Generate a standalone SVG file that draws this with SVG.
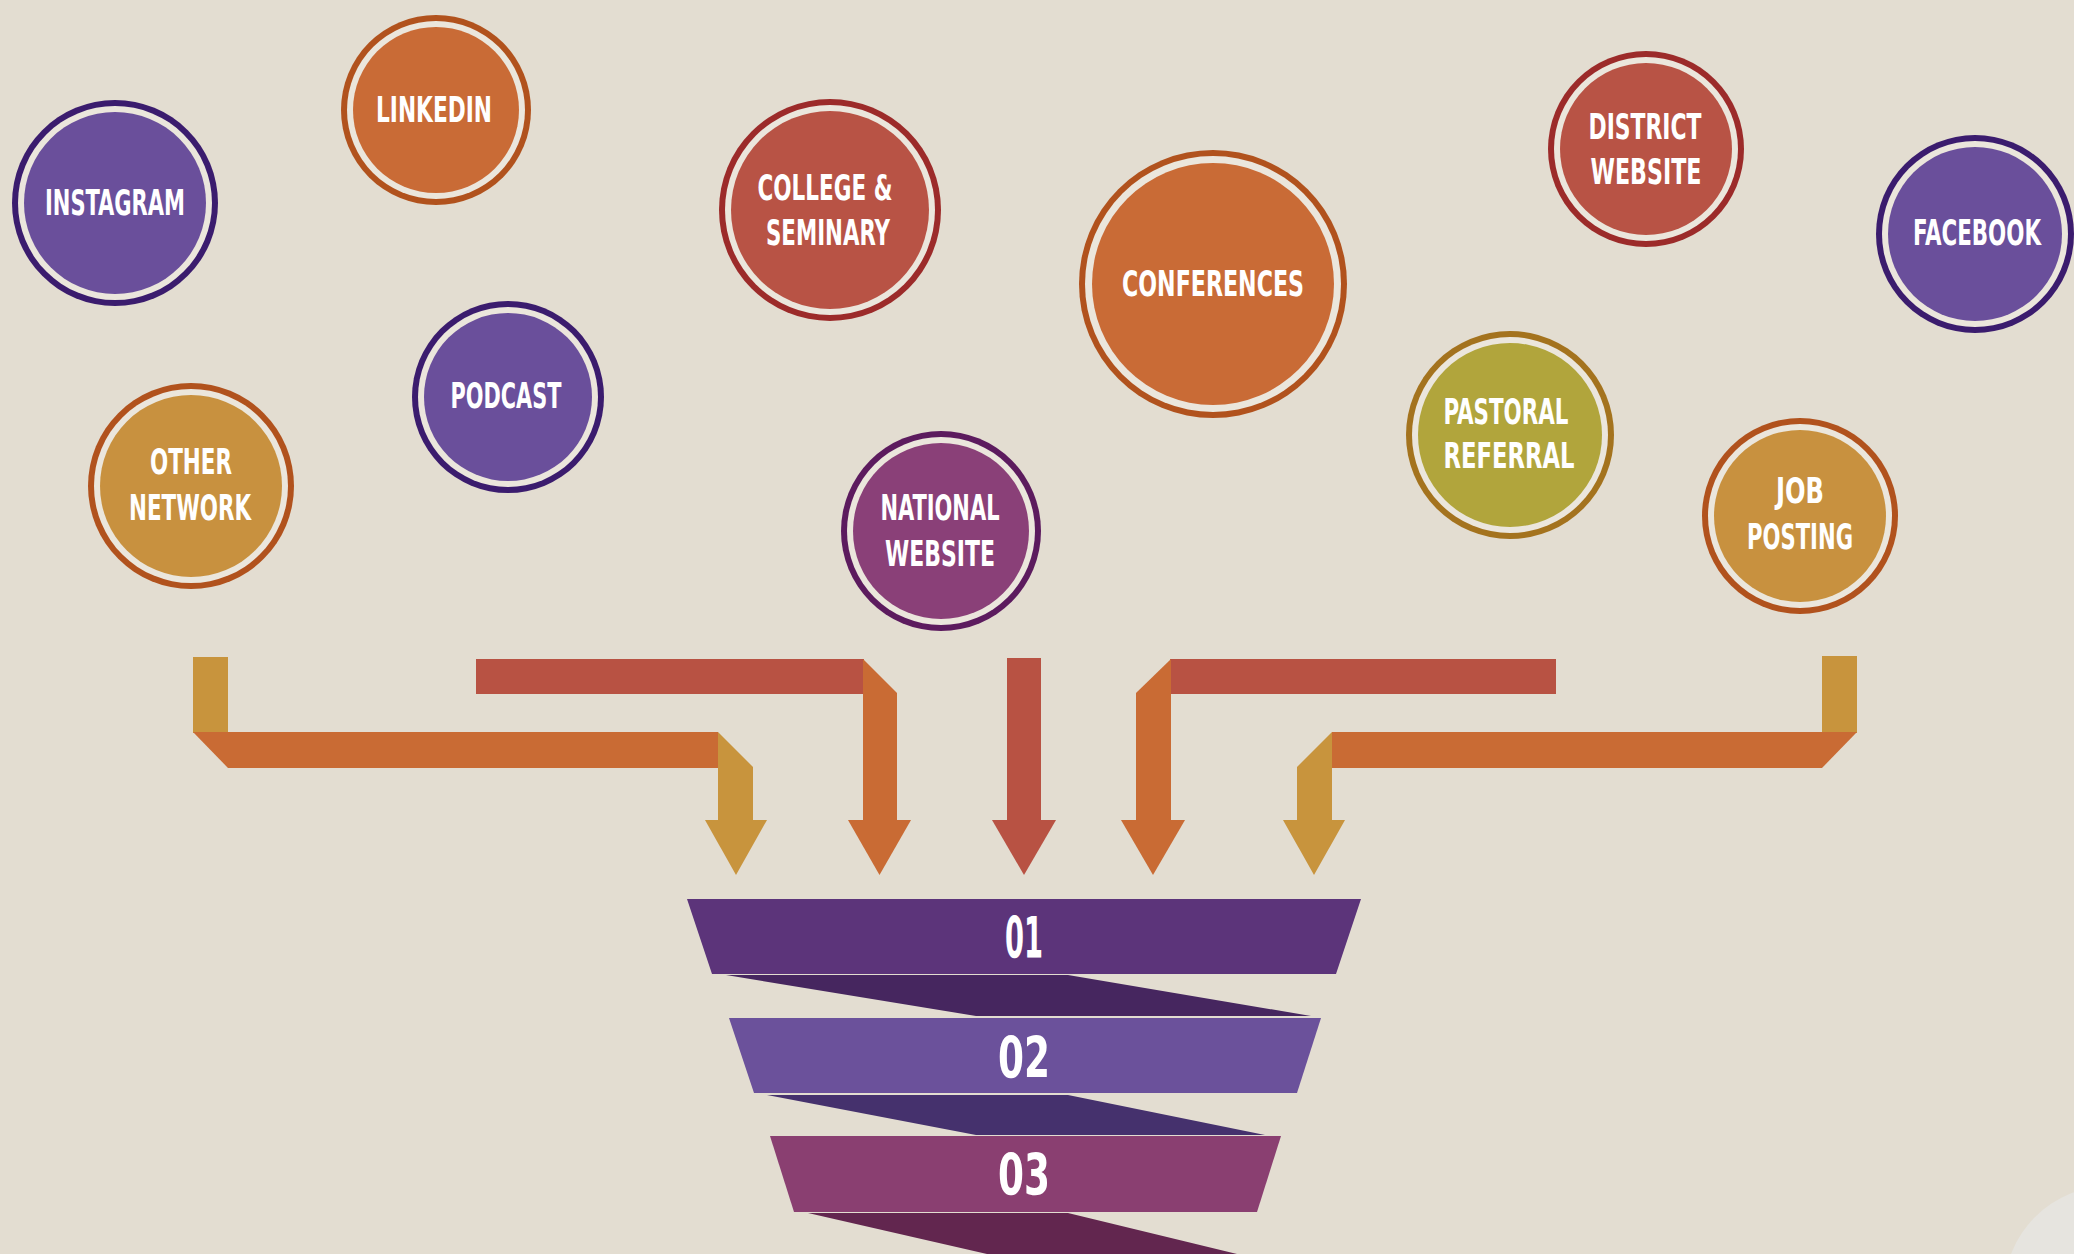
<svg xmlns="http://www.w3.org/2000/svg" width="2074" height="1254" viewBox="0 0 2074 1254">
<style>
  .lbl { font-family: "DejaVu Sans Condensed", "Liberation Sans", sans-serif; font-weight: bold; font-size: 36px; fill: #ffffff; text-anchor: middle; }
  .num { font-family: "DejaVu Sans Condensed", "Liberation Sans", sans-serif; font-weight: bold; font-size: 57px; fill: #ffffff; text-anchor: middle; }
  .gap { fill: #ebe6dc; }
  .purple .ring { fill: #3b1c6e; } .purple .core { fill: #6a4f9b; }
  .orange .ring { fill: #b1521d; } .orange .core { fill: #c96b36; }
  .red .ring { fill: #9c2b2a; } .red .core { fill: #b85345; }
  .gold .ring { fill: #b1521d; } .gold .core { fill: #c8913f; }
  .olive .ring { fill: #a4731e; } .olive .core { fill: #b1a53c; }
  .magenta .ring { fill: #5c1b5e; } .magenta .core { fill: #8a4078; }
  .c-gold { fill: #c8943d; } .c-orange { fill: #c96b34; } .c-red { fill: #b85243; }
</style>
<rect width="2074" height="1254" fill="#e3ddd1"/>

<g id="connectors">
  <g id="arrow-other-network">
    <rect class="c-gold" x="193" y="657" width="35" height="76"/>
    <polygon class="c-orange" points="193,732 718,732 718,768 228,768"/>
    <polygon class="c-gold" points="718,732 753,767 753,821 718,821"/>
    <polygon class="c-gold" points="705,820 767,820 736,875"/>
  </g>
  <g id="arrow-left-inner">
    <rect class="c-red" x="476" y="659" width="388" height="35"/>
    <polygon class="c-orange" points="863,659 897,693 897,821 863,821"/>
    <polygon class="c-orange" points="848,820 911,820 879.5,875"/>
  </g>
  <g id="arrow-center">
    <rect class="c-red" x="1007" y="658" width="34" height="163"/>
    <polygon class="c-red" points="992,820 1056,820 1024,875"/>
  </g>
  <g id="arrow-right-inner">
    <rect class="c-red" x="1170" y="659" width="386" height="35"/>
    <polygon class="c-orange" points="1171,659 1171,821 1136,821 1136,693"/>
    <polygon class="c-orange" points="1121,820 1185,820 1153,875"/>
  </g>
  <g id="arrow-job-posting">
    <rect class="c-gold" x="1822" y="656" width="35" height="77"/>
    <polygon class="c-orange" points="1332,732 1857,732 1822,768 1332,768"/>
    <polygon class="c-gold" points="1332,732 1332,821 1297,821 1297,767"/>
    <polygon class="c-gold" points="1283,820 1345,820 1314,875"/>
  </g>
</g>

<g id="node-instagram" class="purple">
  <circle class="ring" cx="115" cy="203" r="103"/><circle class="gap" cx="115" cy="203" r="97"/><circle class="core" cx="115" cy="203" r="91"/>
  <text class="lbl" x="115" y="215" textLength="140" lengthAdjust="spacingAndGlyphs">INSTAGRAM</text>
</g>
<g id="node-linkedin" class="orange">
  <circle class="ring" cx="436" cy="110" r="95"/><circle class="gap" cx="436" cy="110" r="89"/><circle class="core" cx="436" cy="110" r="83"/>
  <text class="lbl" x="434" y="122" textLength="116" lengthAdjust="spacingAndGlyphs">LINKEDIN</text>
</g>
<g id="node-podcast" class="purple">
  <circle class="ring" cx="508" cy="397" r="96"/><circle class="gap" cx="508" cy="397" r="90"/><circle class="core" cx="508" cy="397" r="84"/>
  <text class="lbl" x="506" y="408" textLength="111" lengthAdjust="spacingAndGlyphs">PODCAST</text>
</g>
<g id="node-other-network" class="gold">
  <circle class="ring" cx="191" cy="486" r="103"/><circle class="gap" cx="191" cy="486" r="97"/><circle class="core" cx="191" cy="486" r="91"/>
  <text class="lbl" x="191" y="474" textLength="82" lengthAdjust="spacingAndGlyphs">OTHER</text>
  <text class="lbl" x="190" y="520" textLength="122" lengthAdjust="spacingAndGlyphs">NETWORK</text>
</g>
<g id="node-college-seminary" class="red">
  <circle class="ring" cx="830" cy="210" r="111"/><circle class="gap" cx="830" cy="210" r="105"/><circle class="core" cx="830" cy="210" r="99"/>
  <text class="lbl" x="825" y="200" textLength="135" lengthAdjust="spacingAndGlyphs">COLLEGE &amp;</text>
  <text class="lbl" x="828" y="245" textLength="124" lengthAdjust="spacingAndGlyphs">SEMINARY</text>
</g>
<g id="node-conferences" class="orange">
  <circle class="ring" cx="1213" cy="284" r="134"/><circle class="gap" cx="1213" cy="284" r="128"/><circle class="core" cx="1213" cy="284" r="121"/>
  <text class="lbl" x="1213" y="296" textLength="182" lengthAdjust="spacingAndGlyphs">CONFERENCES</text>
</g>
<g id="node-national-website" class="magenta">
  <circle class="ring" cx="941" cy="531" r="100"/><circle class="gap" cx="941" cy="531" r="94"/><circle class="core" cx="941" cy="531" r="88"/>
  <text class="lbl" x="940" y="520" textLength="119" lengthAdjust="spacingAndGlyphs">NATIONAL</text>
  <text class="lbl" x="940" y="566" textLength="110" lengthAdjust="spacingAndGlyphs">WEBSITE</text>
</g>
<g id="node-district-website" class="red">
  <circle class="ring" cx="1646" cy="149" r="98"/><circle class="gap" cx="1646" cy="149" r="92"/><circle class="core" cx="1646" cy="149" r="86"/>
  <text class="lbl" x="1645" y="139" textLength="113" lengthAdjust="spacingAndGlyphs">DISTRICT</text>
  <text class="lbl" x="1646" y="184" textLength="111" lengthAdjust="spacingAndGlyphs">WEBSITE</text>
</g>
<g id="node-facebook" class="purple">
  <circle class="ring" cx="1975" cy="234" r="99"/><circle class="gap" cx="1975" cy="234" r="93"/><circle class="core" cx="1975" cy="234" r="87"/>
  <text class="lbl" x="1977" y="245" textLength="128" lengthAdjust="spacingAndGlyphs">FACEBOOK</text>
</g>
<g id="node-pastoral-referral" class="olive">
  <circle class="ring" cx="1510" cy="435" r="104"/><circle class="gap" cx="1510" cy="435" r="98"/><circle class="core" cx="1510" cy="435" r="92"/>
  <text class="lbl" x="1506" y="424" textLength="125" lengthAdjust="spacingAndGlyphs">PASTORAL</text>
  <text class="lbl" x="1509" y="468" textLength="131" lengthAdjust="spacingAndGlyphs">REFERRAL</text>
</g>
<g id="node-job-posting" class="gold">
  <circle class="ring" cx="1800" cy="516" r="98"/><circle class="gap" cx="1800" cy="516" r="92"/><circle class="core" cx="1800" cy="516" r="86"/>
  <text class="lbl" x="1800" y="503" textLength="48" lengthAdjust="spacingAndGlyphs">JOB</text>
  <text class="lbl" x="1800" y="549" textLength="106" lengthAdjust="spacingAndGlyphs">POSTING</text>
</g>

<g id="funnel">
  <polygon fill="#46265f" points="726,975 1068,975 1311,1016 976,1016"/>
  <polygon fill="#45316d" points="767,1095 1068,1095 1265,1135 976,1135"/>
  <polygon fill="#62264f" points="808,1213 1068,1213 1237,1254 987,1254"/>
  <g id="stage-01">
    <polygon fill="#5c347a" points="687,899 1361,899 1336,974 712,974"/>
    <text class="num" x="1024" y="958" textLength="38" lengthAdjust="spacingAndGlyphs">01</text>
  </g>
  <g id="stage-02">
    <polygon fill="#6b519b" points="729,1018 1321,1018 1297,1093 754,1093"/>
    <text class="num" x="1024" y="1078" textLength="52" lengthAdjust="spacingAndGlyphs">02</text>
  </g>
  <g id="stage-03">
    <polygon fill="#8a3f71" points="770,1136 1281,1136 1257,1212 794,1212"/>
    <text class="num" x="1024" y="1195" textLength="52" lengthAdjust="spacingAndGlyphs">03</text>
  </g>
</g>

<circle cx="2110" cy="1292" r="106" fill="#e6e4df"/>
</svg>
